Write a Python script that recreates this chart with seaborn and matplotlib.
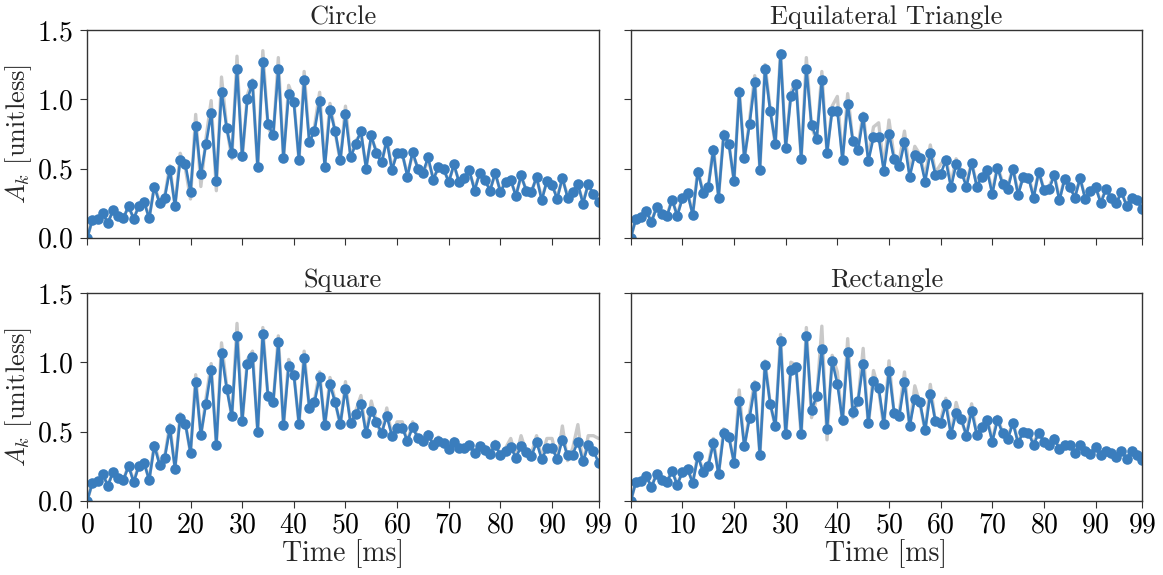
import matplotlib
matplotlib.use("Agg")
import matplotlib.pyplot as plt
import numpy as np
import pandas as pd
import seaborn as sns

# ---- data -------------------------------------------------------------
time_ms = list(range(100))
shapes = ["Circle", "Equilateral Triangle", "Square", "Rectangle"]

circle_est = [0.0, 0.13, 0.137, 0.178, 0.106, 0.20, 0.16, 0.14, 0.23, 0.137,
              0.23, 0.26, 0.14, 0.37, 0.25, 0.29, 0.49, 0.23, 0.56, 0.53,
              0.33, 0.81, 0.46, 0.675, 0.90, 0.41, 1.055, 0.79, 0.61, 1.22,
              0.59, 1.0, 1.11, 0.51, 1.27, 0.82, 0.74, 1.22, 0.575, 1.04,
              0.98, 0.56, 1.135, 0.69, 0.77, 0.99, 0.51, 0.925, 0.77, 0.56,
              0.89, 0.58, 0.68, 0.77, 0.50, 0.74, 0.61, 0.545, 0.70, 0.49,
              0.61, 0.61, 0.44, 0.62, 0.50, 0.47, 0.58, 0.42, 0.51, 0.50,
              0.40, 0.53, 0.40, 0.435, 0.486, 0.34, 0.47, 0.415, 0.34, 0.47,
              0.33, 0.40, 0.42, 0.30, 0.45, 0.34, 0.33, 0.44, 0.27, 0.41,
              0.38, 0.28, 0.435, 0.29, 0.33, 0.39, 0.245, 0.39, 0.315, 0.255]
circle_ref = [0.0, 0.13, 0.14, 0.17, 0.11, 0.20, 0.16, 0.15, 0.22, 0.14,
              0.23, 0.27, 0.14, 0.38, 0.26, 0.30, 0.52, 0.22, 0.61, 0.50,
              0.28, 0.89, 0.37, 0.72, 0.99, 0.34, 1.16, 0.80, 0.57, 1.31,
              0.56, 1.03, 1.14, 0.49, 1.35, 0.80, 0.72, 1.30, 0.56, 1.10,
              1.00, 0.55, 1.20, 0.70, 0.80, 1.05, 0.52, 0.97, 0.76, 0.55,
              0.95, 0.58, 0.70, 0.75, 0.51, 0.72, 0.63, 0.53, 0.72, 0.50,
              0.62, 0.60, 0.46, 0.60, 0.51, 0.46, 0.56, 0.43, 0.50, 0.49,
              0.41, 0.52, 0.41, 0.44, 0.47, 0.36, 0.46, 0.42, 0.35, 0.46,
              0.34, 0.41, 0.41, 0.31, 0.44, 0.35, 0.34, 0.43, 0.29, 0.40,
              0.37, 0.30, 0.42, 0.31, 0.34, 0.38, 0.26, 0.38, 0.31, 0.26]

triangle_est = [0.0, 0.137, 0.147, 0.19, 0.113, 0.22, 0.17, 0.154, 0.276, 0.159,
                0.284, 0.32, 0.166, 0.478, 0.322, 0.363, 0.637, 0.29, 0.743, 0.678,
                0.41, 1.05, 0.575, 0.82, 1.125, 0.49, 1.22, 0.916, 0.68, 1.325,
                0.65, 1.02, 1.11, 0.57, 1.22, 0.815, 0.716, 1.135, 0.613, 0.916,
                0.918, 0.5625, 0.964, 0.70, 0.63, 0.87, 0.553, 0.724, 0.724, 0.483,
                0.75, 0.565, 0.517, 0.69, 0.44, 0.60, 0.575, 0.406, 0.615, 0.454,
                0.46, 0.56, 0.363, 0.53, 0.47, 0.37, 0.54, 0.37, 0.44, 0.486,
                0.315, 0.507, 0.387, 0.353, 0.50, 0.31, 0.44, 0.435, 0.29, 0.476,
                0.344, 0.353, 0.45, 0.27, 0.423, 0.365, 0.29, 0.43, 0.28, 0.34,
                0.368, 0.25, 0.35, 0.29, 0.25, 0.327, 0.233, 0.286, 0.27, 0.21]
triangle_ref = [0.0, 0.14, 0.15, 0.20, 0.12, 0.22, 0.17, 0.16, 0.28, 0.16,
                0.30, 0.33, 0.17, 0.50, 0.32, 0.37, 0.66, 0.29, 0.77, 0.68,
                0.40, 1.08, 0.56, 0.85, 1.17, 0.48, 1.25, 0.93, 0.66, 1.35,
                0.64, 1.05, 1.13, 0.56, 1.30, 0.80, 0.70, 1.20, 0.60, 0.95,
                1.02, 0.56, 1.04, 0.70, 0.66, 0.90, 0.57, 0.80, 0.83, 0.50,
                0.85, 0.58, 0.56, 0.77, 0.46, 0.66, 0.60, 0.44, 0.67, 0.47,
                0.53, 0.58, 0.39, 0.57, 0.48, 0.39, 0.55, 0.38, 0.45, 0.50,
                0.33, 0.52, 0.40, 0.37, 0.51, 0.32, 0.45, 0.45, 0.30, 0.48,
                0.35, 0.37, 0.46, 0.28, 0.43, 0.37, 0.30, 0.43, 0.29, 0.35,
                0.37, 0.26, 0.35, 0.30, 0.26, 0.33, 0.24, 0.29, 0.27, 0.22]

square_est = [0.0, 0.13, 0.14, 0.19, 0.11, 0.207, 0.163, 0.15, 0.25, 0.135,
              0.252, 0.274, 0.15, 0.397, 0.262, 0.31, 0.52, 0.23, 0.60, 0.555,
              0.346, 0.86, 0.478, 0.70, 0.945, 0.406, 1.07, 0.81, 0.613, 1.19,
              0.575, 0.99, 1.04, 0.50, 1.207, 0.755, 0.71, 1.144, 0.548, 0.97,
              0.91, 0.555, 1.03, 0.673, 0.71, 0.894, 0.548, 0.84, 0.71, 0.555,
              0.81, 0.56, 0.625, 0.70, 0.486, 0.65, 0.57, 0.49, 0.61, 0.47,
              0.524, 0.524, 0.433, 0.53, 0.454, 0.433, 0.478, 0.404, 0.433, 0.418,
              0.375, 0.428, 0.38, 0.38, 0.404, 0.344, 0.394, 0.37, 0.34, 0.40,
              0.33, 0.356, 0.387, 0.31, 0.394, 0.35, 0.32, 0.423, 0.30, 0.38,
              0.38, 0.30, 0.442, 0.327, 0.334, 0.428, 0.284, 0.40, 0.363, 0.276]
square_ref = [0.0, 0.13, 0.14, 0.19, 0.11, 0.21, 0.17, 0.15, 0.26, 0.14,
              0.26, 0.28, 0.15, 0.42, 0.27, 0.32, 0.55, 0.23, 0.63, 0.56,
              0.34, 0.91, 0.46, 0.74, 0.99, 0.39, 1.14, 0.83, 0.60, 1.28,
              0.56, 1.02, 1.08, 0.49, 1.25, 0.74, 0.70, 1.19, 0.53, 1.02,
              0.93, 0.54, 1.08, 0.66, 0.73, 0.93, 0.53, 0.89, 0.72, 0.54,
              0.86, 0.55, 0.65, 0.76, 0.47, 0.72, 0.57, 0.47, 0.67, 0.46,
              0.57, 0.57, 0.42, 0.57, 0.45, 0.42, 0.50, 0.41, 0.46, 0.42,
              0.38, 0.45, 0.37, 0.39, 0.42, 0.34, 0.41, 0.36, 0.35, 0.43,
              0.33, 0.38, 0.45, 0.31, 0.47, 0.35, 0.34, 0.47, 0.31, 0.45,
              0.45, 0.29, 0.54, 0.29, 0.38, 0.55, 0.26, 0.47, 0.47, 0.45]

rectangle_est = [0.0, 0.135, 0.14, 0.18, 0.10, 0.19, 0.15, 0.135, 0.214, 0.115,
                 0.207, 0.228, 0.13, 0.32, 0.21, 0.25, 0.416, 0.19, 0.49, 0.46,
                 0.276, 0.72, 0.394, 0.596, 0.827, 0.33, 0.983, 0.70, 0.54, 1.15,
                 0.48, 0.945, 0.964, 0.483, 1.19, 0.656, 0.755, 1.096, 0.517, 1.007,
                 0.844, 0.58, 1.077, 0.644, 0.72, 0.99, 0.56, 0.868, 0.817, 0.555,
                 0.9375, 0.637, 0.615, 0.86, 0.54, 0.736, 0.71, 0.51, 0.77, 0.575,
                 0.56, 0.695, 0.48, 0.635, 0.59, 0.47, 0.647, 0.478, 0.53, 0.58,
                 0.428, 0.58, 0.49, 0.447, 0.56, 0.418, 0.495, 0.488, 0.404, 0.49,
                 0.423, 0.40, 0.447, 0.375, 0.406, 0.404, 0.344, 0.404, 0.363, 0.341,
                 0.387, 0.327, 0.363, 0.346, 0.315, 0.363, 0.303, 0.356, 0.327, 0.298]
rectangle_ref = [0.0, 0.14, 0.14, 0.18, 0.10, 0.20, 0.15, 0.14, 0.22, 0.12,
                 0.21, 0.24, 0.13, 0.34, 0.21, 0.26, 0.45, 0.19, 0.52, 0.47,
                 0.27, 0.80, 0.38, 0.64, 0.86, 0.32, 1.01, 0.70, 0.53, 1.20,
                 0.45, 1.00, 0.98, 0.46, 1.25, 0.60, 0.74, 1.26, 0.44, 1.05,
                 0.93, 0.55, 1.17, 0.60, 0.72, 1.10, 0.53, 0.94, 0.80, 0.53,
                 1.01, 0.62, 0.64, 0.93, 0.52, 0.83, 0.70, 0.50, 0.84, 0.56,
                 0.58, 0.74, 0.47, 0.71, 0.58, 0.47, 0.70, 0.47, 0.55, 0.60,
                 0.43, 0.61, 0.49, 0.45, 0.58, 0.42, 0.51, 0.51, 0.41, 0.51,
                 0.43, 0.41, 0.47, 0.38, 0.42, 0.41, 0.35, 0.41, 0.37, 0.35,
                 0.39, 0.33, 0.37, 0.35, 0.32, 0.37, 0.31, 0.36, 0.33, 0.30]

x_ticks = [0, 10, 20, 30, 40, 50, 60, 70, 80, 90, 99]
y_ticks = [0.0, 0.5, 1.0, 1.5]

estimates = [circle_est, triangle_est, square_est, rectangle_est]
references = [circle_ref, triangle_ref, square_ref, rectangle_ref]

# ---- style ------------------------------------------------------------
sns.set_style("ticks")
plt.rcParams.update({
    "font.family": "serif",
    "font.serif": ["cmr10"],
    "mathtext.fontset": "cm",
    "axes.formatter.use_mathtext": True,
    "axes.unicode_minus": False,
    "font.size": 19,
    "axes.edgecolor": "#333333",
    "axes.linewidth": 1.0,
    "xtick.color": "#333333",
    "ytick.color": "#333333",
    "xtick.labelcolor": "black",
    "ytick.labelcolor": "black",
    "xtick.direction": "out",
    "ytick.direction": "out",
    "xtick.major.size": 5,
    "ytick.major.size": 5,
})

blue = "#3a7dbd"

fig, axes = plt.subplots(2, 2, figsize=(11.63, 5.75), dpi=100,
                         sharex=True, sharey=True)
fig.subplots_adjust(left=0.075, right=0.982, top=0.948, bottom=0.129,
                    wspace=0.063, hspace=0.265)

for ax, name, est, ref in zip(axes.flat, shapes, estimates, references):
    df = pd.DataFrame({"t": time_ms, "est": est, "ref": ref})
    sns.lineplot(data=df, x="t", y="ref", ax=ax, color="#9e9e9e",
                 alpha=0.55, linewidth=2.4, zorder=1)
    sns.lineplot(data=df, x="t", y="est", ax=ax, color=blue, linewidth=1.9,
                 marker="o", markersize=7.6, markeredgewidth=0,
                 markeredgecolor=blue, zorder=2, clip_on=True)
    ax.set_title(name, fontsize=19, pad=4)
    ax.set_xlim(0, 99)
    ax.set_ylim(0, 1.5)
    ax.set_xticks(x_ticks)
    ax.set_yticks(y_ticks)
    ax.set_xlabel("")
    ax.set_ylabel("")
    ax.tick_params(labelsize=20)
    ax.tick_params(axis="y", pad=5)
    ax.tick_params(axis="x", pad=3)
    for s in ax.spines.values():
        s.set_visible(True)

for ax in axes[:, 0]:
    ax.set_ylabel(r"$A_k$ [unitless]", fontsize=19, labelpad=2)
for ax in axes[1, :]:
    ax.set_xlabel("Time [ms]", fontsize=20, labelpad=1)

fig.savefig("out.png", dpi=100)
